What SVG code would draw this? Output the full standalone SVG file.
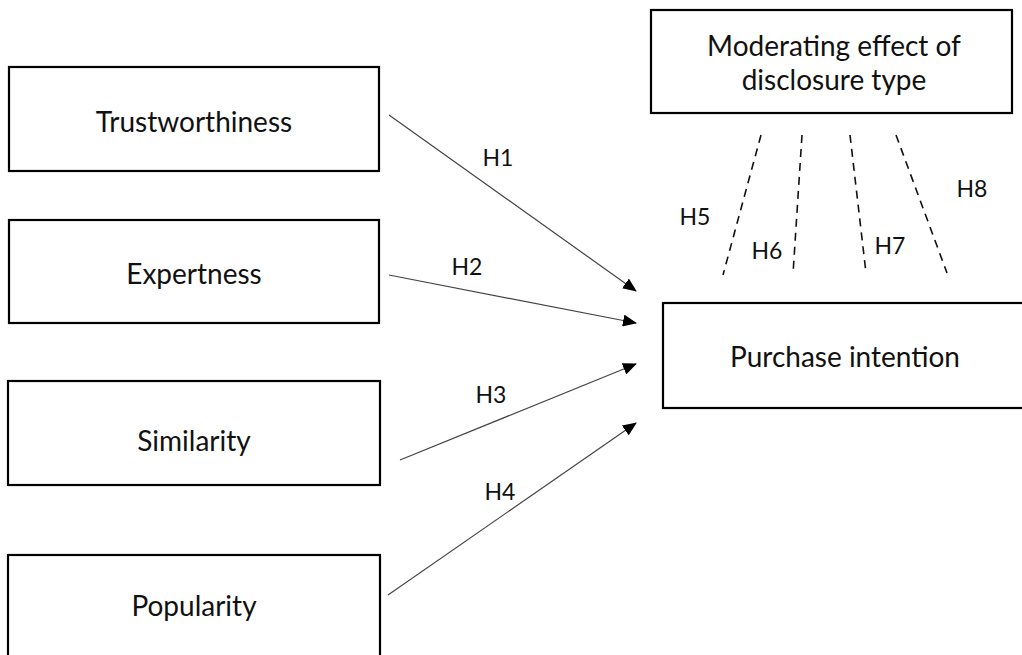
<svg xmlns="http://www.w3.org/2000/svg" width="1022" height="655" viewBox="0 0 1022 655">
<style>
.box{fill:#fff;stroke:#000;stroke-width:2.2}
.t{font-family:Lato,"Open Sans",sans-serif;font-size:28px;fill:#111;text-anchor:middle}
.lbl{font-family:Lato,"Open Sans",sans-serif;font-size:23px;fill:#111;text-anchor:middle}
.arr{stroke:#444;stroke-width:1.2;fill:none;marker-end:url(#ah)}
.dash{stroke:#111;stroke-width:1.6;fill:none;stroke-dasharray:8,6}
</style>
<defs>
<marker id="ah" viewBox="0 0 14 12" refX="13" refY="6" markerWidth="14" markerHeight="12" markerUnits="userSpaceOnUse" orient="auto">
<path d="M0,0 L14,6 L0,12 Z" fill="#000"/>
</marker>
</defs>
<rect width="1022" height="655" fill="#fff"/>
<g id="trustworthiness"><rect class="box" x="9" y="67" width="370" height="104"/><text class="t" x="194" y="132">Trustworthiness</text></g>
<g id="expertness"><rect class="box" x="9" y="220" width="370" height="103"/><text class="t" x="194" y="284">Expertness</text></g>
<g id="similarity"><rect class="box" x="8" y="381" width="372" height="104"/><text class="t" x="194" y="451">Similarity</text></g>
<g id="popularity"><rect class="box" x="8" y="555" width="372" height="110"/><text class="t" x="194" y="616">Popularity</text></g>
<g id="moderating"><rect class="box" x="651" y="10" width="361" height="103"/><text class="t" x="834" y="56">Moderating effect of</text><text class="t" x="834" y="90">disclosure type</text></g>
<g id="purchase"><rect class="box" x="663" y="303" width="370" height="105"/><text class="t" x="845" y="367">Purchase intention</text></g>
<g id="connectors">
<line class="arr" x1="389" y1="115" x2="636" y2="291"/>
<line class="arr" x1="389" y1="275" x2="636" y2="323"/>
<line class="arr" x1="400" y1="460" x2="636" y2="364"/>
<line class="arr" x1="388" y1="595" x2="636" y2="423"/>
<line class="dash" x1="761" y1="135" x2="723" y2="275"/>
<line class="dash" x1="802" y1="135" x2="793" y2="274"/>
<line class="dash" x1="850" y1="135" x2="866" y2="273"/>
<line class="dash" x1="896" y1="135" x2="947" y2="273"/>
</g>
<g id="labels">
<text class="lbl" x="498" y="166">H1</text>
<text class="lbl" x="467" y="275">H2</text>
<text class="lbl" x="491" y="403">H3</text>
<text class="lbl" x="500" y="500">H4</text>
<text class="lbl" x="695" y="225">H5</text>
<text class="lbl" x="767" y="259">H6</text>
<text class="lbl" x="890" y="254">H7</text>
<text class="lbl" x="972" y="197">H8</text>
</g>
</svg>
